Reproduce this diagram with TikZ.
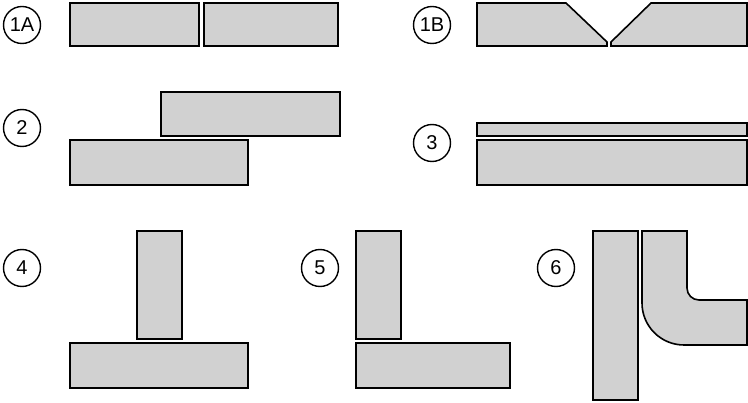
\documentclass[tikz,border=0pt]{standalone}
\usepackage{fontspec}
\setmainfont{Liberation Sans}
\begin{document}
\begin{tikzpicture}[x=1pt,y=-1pt,line width=1.6pt,
  plate/.style={draw=black,fill=black!18},
  num/.style={circle,draw=black,line width=1.4pt,minimum size=37pt,inner sep=0pt,font=\fontsize{20}{20}\selectfont}]
\useasboundingbox (0,0) rectangle (748,403);
% labels
\node[num] (n1a) at (22,25) {1A};
\node[num] (n1b) at (432,25) {1B};
\node[num] (n2) at (22,128) {2};
\node[num] (n3) at (432,143) {3};
\node[num] (n4) at (22,268) {4};
\node[num] (n5) at (320,268) {5};
\node[num] (n6) at (556,268) {6};
% 1A
\draw[plate] (70,3) rectangle (199,46);
\draw[plate] (204,3) rectangle (338,46);
% 1B
\draw[plate] (477,3) -- (566,3) -- (607,42) -- (607,46) -- (477,46) -- cycle;
\draw[plate] (611,46) -- (611,42) -- (651,3) -- (747,3) -- (747,46) -- cycle;
% 2
\draw[plate] (161,92) rectangle (340,136);
\draw[plate] (70,140) rectangle (248,185);
% 3
\draw[plate] (477,123) rectangle (747,136);
\draw[plate] (477,140) rectangle (747,185);
% 4
\draw[plate] (137,231) rectangle (182,339);
\draw[plate] (70,343) rectangle (248,388);
% 5
\draw[plate] (356,231) rectangle (401,339);
\draw[plate] (356,343) rectangle (510,388);
% 6
\draw[plate] (593,231) rectangle (638,400);
\draw[plate] (642,231) -- (687,231) -- (687,288) arc[start angle=180,end angle=90,radius=12]
  -- (747,300) -- (747,345) -- (684,345) arc[start angle=90,end angle=180,radius=42] -- cycle;
\end{tikzpicture}
\end{document}
